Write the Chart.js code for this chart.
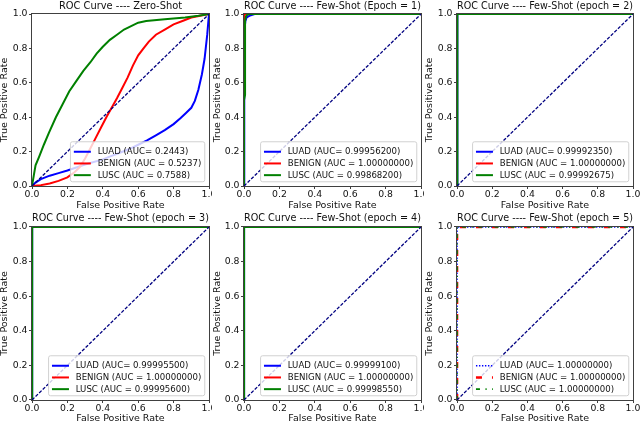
<!DOCTYPE html>
<html><head><meta charset="utf-8">
<script src="https://cdn.jsdelivr.net/npm/chart.js@4.4.0/dist/chart.umd.min.js"></script>
<style>
html,body{margin:0;padding:0;background:#fff;}
#wrap{position:relative;width:640px;height:423px;overflow:hidden;background:#fff;}
canvas{position:absolute;}
</style></head><body><div id="wrap"></div>
<script>
// ---------- DATA ----------
const classNames = ['LUAD', 'BENIGN', 'LUSC'];
const panelTitles = [
  'ROC Curve ---- Zero-Shot',
  'ROC Curve ---- Few-Shot (Epoch = 1)',
  'ROC Curve ---- Few-Shot (epoch = 2)',
  'ROC Curve ---- Few-Shot (epoch = 3)',
  'ROC Curve ---- Few-Shot (epoch = 4)',
  'ROC Curve ---- Few-Shot (epoch = 5)'
];
const aucZeroShot = ['0.2443', '0.5237', '0.7588'];
const aucEpoch1 = ['0.99956200', '1.00000000', '0.99868200'];
const aucEpoch2 = ['0.99992350', '1.00000000', '0.99992675'];
const aucEpoch3 = ['0.99995500', '1.00000000', '0.99995600'];
const aucEpoch4 = ['0.99999100', '1.00000000', '0.99998550'];
const aucEpoch5 = ['1.00000000', '1.00000000', '1.00000000'];
const tickValues = [0.0, 0.2, 0.4, 0.6, 0.8, 1.0];
const chanceFpr = [0, 1];
const chanceTpr = [0, 1];

// Zero-shot curves
const zsLuadFpr = [0, 0.02, 0.05, 0.1, 0.15, 0.2, 0.3, 0.4, 0.45, 0.5, 0.55, 0.6, 0.65, 0.7, 0.75, 0.8, 0.84, 0.87, 0.9, 0.92, 0.94, 0.96, 0.975, 0.99, 1];
const zsLuadTpr = [0, 0.02, 0.04, 0.06, 0.075, 0.09, 0.125, 0.155, 0.175, 0.195, 0.215, 0.24, 0.265, 0.295, 0.325, 0.36, 0.395, 0.425, 0.455, 0.495, 0.56, 0.65, 0.74, 0.88, 1];
const zsBenignFpr = [0, 0.05, 0.1, 0.15, 0.2, 0.24, 0.27, 0.3, 0.33, 0.36, 0.39, 0.42, 0.45, 0.48, 0.51, 0.54, 0.57, 0.6, 0.63, 0.66, 0.7, 0.75, 0.8, 0.85, 0.9, 0.95, 1];
const zsBenignTpr = [0, 0.005, 0.015, 0.03, 0.05, 0.08, 0.11, 0.16, 0.22, 0.28, 0.34, 0.4, 0.455, 0.51, 0.57, 0.63, 0.7, 0.76, 0.8, 0.84, 0.88, 0.91, 0.94, 0.96, 0.98, 0.99, 1];
const zsLuscFpr = [0, 0.01, 0.02, 0.04, 0.067, 0.096, 0.135, 0.17, 0.21, 0.25, 0.29, 0.33, 0.365, 0.4, 0.44, 0.48, 0.52, 0.56, 0.6, 0.645, 0.75, 0.865, 0.94, 1];
const zsLuscTpr = [0, 0.06, 0.12, 0.17, 0.24, 0.31, 0.4, 0.47, 0.55, 0.61, 0.67, 0.72, 0.77, 0.81, 0.85, 0.88, 0.91, 0.93, 0.95, 0.96, 0.97, 0.98, 0.99, 1];

// Epoch 1
const e1LuadFpr = [0, 0, 0.003, 0.008, 0.015, 0.03, 0.06, 1];
const e1LuadTpr = [0, 0.6, 0.9, 0.96, 0.98, 0.99, 1, 1];
const e1BenignFpr = [0, 0, 1];
const e1BenignTpr = [0, 1, 1];
const e1LuscFpr = [0, 0, 0.006, 0.006, 0.012, 0.025, 1];
const e1LuscTpr = [0, 0.5, 0.53, 0.96, 0.99, 1, 1];
// Epoch 2
const e2LuadFpr = [0, 0, 0.004, 1];
const e2LuadTpr = [0, 0.985, 1, 1];
const e2BenignFpr = [0, 0, 1];
const e2BenignTpr = [0, 1, 1];
const e2LuscFpr = [0, 0, 0.004, 1];
const e2LuscTpr = [0, 0.99, 1, 1];
// Epoch 3
const e3LuadFpr = [0, 0, 0.002, 1];
const e3LuadTpr = [0, 0.99, 1, 1];
const e3BenignFpr = [0, 0, 1];
const e3BenignTpr = [0, 1, 1];
const e3LuscFpr = [0, 0, 0.002, 1];
const e3LuscTpr = [0, 0.995, 1, 1];
// Epoch 4
const e4LuadFpr = [0, 0, 0.001, 1];
const e4LuadTpr = [0, 0.998, 1, 1];
const e4BenignFpr = [0, 0, 1];
const e4BenignTpr = [0, 1, 1];
const e4LuscFpr = [0, 0, 0.001, 1];
const e4LuscTpr = [0, 0.997, 1, 1];
// Epoch 5
const e5LuadFpr = [0, 0, 1];
const e5LuadTpr = [0, 1, 1];
const e5BenignFpr = [0, 0, 1];
const e5BenignTpr = [0, 1, 1];
const e5LuscFpr = [0, 0, 1];
const e5LuscTpr = [0, 1, 1];

// ---------- BUILD ----------
Chart.defaults.font.family = "'DejaVu Sans', sans-serif";
const TEXT = '#111111';
const SPINE = '#404040';

const panels = [
  {auc: aucZeroShot, curves: [[zsLuadFpr, zsLuadTpr], [zsBenignFpr, zsBenignTpr], [zsLuscFpr, zsLuscTpr]]},
  {auc: aucEpoch1, curves: [[e1LuadFpr, e1LuadTpr], [e1BenignFpr, e1BenignTpr], [e1LuscFpr, e1LuscTpr]]},
  {auc: aucEpoch2, curves: [[e2LuadFpr, e2LuadTpr], [e2BenignFpr, e2BenignTpr], [e2LuscFpr, e2LuscTpr]]},
  {auc: aucEpoch3, curves: [[e3LuadFpr, e3LuadTpr], [e3BenignFpr, e3BenignTpr], [e3LuscFpr, e3LuscTpr]]},
  {auc: aucEpoch4, curves: [[e4LuadFpr, e4LuadTpr], [e4BenignFpr, e4BenignTpr], [e4LuscFpr, e4LuscTpr]]},
  {auc: aucEpoch5, curves: [[e5LuadFpr, e5LuadTpr], [e5BenignFpr, e5BenignTpr], [e5LuscFpr, e5LuscTpr]], styled: true}
];

const colors = ['#0000ff', '#ff0000', '#008000'];
const styledDash = [[1.4, 1.6], [6, 10], [4, 5.5, 1.2, 5.5]];
const styledWidth = [1.5, 2.6, 1.7];

const cols = [
  {left: 0, width: 212, yw: 32, rp: 3},
  {left: 212, width: 212, yw: 32, rp: 3},
  {left: 424, width: 216, yw: 33, rp: 7}
];
const rows = [
  {top: 0, height: 210, tTop: 0.2, tBot: 2.0, xh: 24},
  {top: 210, height: 213, tTop: 2.3, tBot: 2.8, xh: 23}
];

const toPoints = (xs, ys) => xs.map((x, i) => ({x: x, y: ys[i]}));

const framePlugin = {
  id: 'mplFrame',
  afterDatasetsDraw(chart) {
    const ctx = chart.ctx, ca = chart.chartArea;
    ctx.save();
    ctx.strokeStyle = SPINE;
    ctx.lineWidth = 1;
    ctx.setLineDash([]);
    ctx.strokeRect(Math.round(ca.left) - 0.5, Math.round(ca.top) - 0.5,
      Math.round(ca.right) - Math.round(ca.left) + 1, Math.round(ca.bottom) - Math.round(ca.top) + 1);
    // legend (lower right, matplotlib style)
    const fs = 8.6;
    ctx.font = fs + "px 'DejaVu Sans'";
    const items = chart.data.datasets.filter(d => d.inLegend);
    let tw = 0;
    items.forEach(d => { tw = Math.max(tw, ctx.measureText(d.label).width); });
    const bp = 3.4, hl = 17, htp = 6.8, bap = 4.25;
    const w = bp + hl + htp + tw + bp, h = 40;
    const right = ca.right - bap, bottom = ca.bottom - bap;
    const left = right - w, top = bottom - h;
    const r = 2;
    ctx.beginPath();
    ctx.moveTo(left + r, top);
    ctx.lineTo(right - r, top);
    ctx.quadraticCurveTo(right, top, right, top + r);
    ctx.lineTo(right, bottom - r);
    ctx.quadraticCurveTo(right, bottom, right - r, bottom);
    ctx.lineTo(left + r, bottom);
    ctx.quadraticCurveTo(left, bottom, left, bottom - r);
    ctx.lineTo(left, top + r);
    ctx.quadraticCurveTo(left, top, left + r, top);
    ctx.closePath();
    ctx.fillStyle = 'rgba(255,255,255,0.8)';
    ctx.fill();
    ctx.strokeStyle = '#cccccc';
    ctx.lineWidth = 0.9;
    ctx.stroke();
    items.forEach((d, i) => {
      const y = top + 10 + i * 11.7;
      ctx.beginPath();
      ctx.setLineDash(d.borderDash || []);
      ctx.lineWidth = d.borderWidth;
      ctx.strokeStyle = d.borderColor;
      ctx.moveTo(left + bp, y);
      ctx.lineTo(left + bp + hl, y);
      ctx.stroke();
      ctx.setLineDash([]);
      ctx.fillStyle = TEXT;
      ctx.textBaseline = 'middle';
      ctx.textAlign = 'left';
      ctx.fillText(d.label, left + bp + hl + htp, y + 0.5);
    });
    ctx.restore();
  }
};

const wrap = document.getElementById('wrap');
panels.forEach((p, idx) => {
  const col = cols[idx % 3], row = rows[Math.floor(idx / 3)];
  const cv = document.createElement('canvas');
  cv.width = col.width; cv.height = row.height;
  cv.style.left = col.left + 'px'; cv.style.top = row.top + 'px';
  cv.style.width = col.width + 'px'; cv.style.height = row.height + 'px';
  wrap.appendChild(cv);

  const datasets = p.curves.map((c, k) => ({
    label: classNames[k] + (k === 0 ? ' (AUC= ' : ' (AUC = ') + p.auc[k] + ')',
    data: toPoints(c[0], c[1]),
    borderColor: colors[k],
    backgroundColor: colors[k],
    borderWidth: p.styled ? styledWidth[k] : 2,
    borderDash: p.styled ? styledDash[k] : [],
    pointRadius: 0,
    tension: 0,
    fill: false,
    inLegend: true,
    order: 10 - k
  }));
  datasets.push({
    label: 'chance',
    data: toPoints(chanceFpr, chanceTpr),
    borderColor: '#000080',
    borderWidth: 1.3,
    borderDash: [3.4, 1.6],
    pointRadius: 0,
    fill: false,
    inLegend: false,
    order: 1
  });

  new Chart(cv, {
    type: 'line',
    data: {datasets: datasets},
    plugins: [framePlugin],
    options: {
      responsive: false,
      animation: false,
      devicePixelRatio: 1,
      layout: {padding: {left: 0, right: col.rp, top: 0, bottom: 0}},
      plugins: {
        legend: {display: false},
        tooltip: {enabled: false},
        title: {
          display: true,
          text: panelTitles[idx],
          fullSize: false,
          color: TEXT,
          font: {size: 9.9, weight: 'normal', lineHeight: 1.2},
          padding: {top: row.tTop, bottom: row.tBot}
        }
      },
      scales: {
        x: {
          type: 'linear', min: 0, max: 1,
          afterFit(s) { s.height = row.xh; s.paddingLeft = 0; s.paddingRight = 0; },
          afterBuildTicks(s) { s.ticks = tickValues.map(v => ({value: v})); },
          ticks: {
            callback: v => Number(v).toFixed(1),
            color: TEXT, font: {size: 9.3, lineHeight: 1}, padding: 1,
            maxRotation: 0, autoSkip: false
          },
          grid: {display: true, drawOnChartArea: false, drawTicks: true, tickLength: 3, color: SPINE},
          border: {display: false},
          title: {display: true, text: 'False Positive Rate', color: TEXT,
                  font: {size: 9.5, lineHeight: 1}, padding: {top: 0, bottom: 0}}
        },
        y: {
          type: 'linear', min: 0, max: 1,
          afterFit(s) { s.width = col.yw; s.paddingTop = 0; s.paddingBottom = 0; },
          afterBuildTicks(s) { s.ticks = tickValues.map(v => ({value: v})); },
          ticks: {
            callback: v => Number(v).toFixed(1),
            color: TEXT, font: {size: 9.3, lineHeight: 1}, padding: 1.5,
            autoSkip: false
          },
          grid: {display: true, drawOnChartArea: false, drawTicks: true, tickLength: 3, color: SPINE},
          border: {display: false},
          title: {display: true, text: 'True Positive Rate', color: TEXT,
                  font: {size: 9.5, lineHeight: 1}, padding: {top: idx % 3 === 0 ? 0 : 1, bottom: 0}}
        }
      }
    }
  });
});
</script></body></html>
